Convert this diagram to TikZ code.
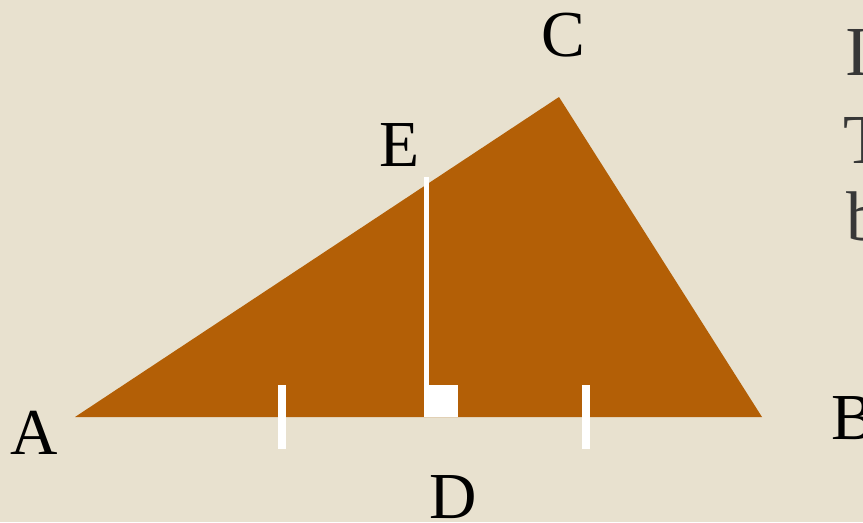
\documentclass[tikz,border=0pt]{standalone}
\usepackage{fontspec}
\setmainfont{Liberation Serif}
\usepackage{tikz}
\usetikzlibrary{positioning}
\definecolor{paper}{RGB}{232,225,207}
\definecolor{rust}{RGB}{179,95,6}
\definecolor{ink}{RGB}{55,55,55}
\tikzset{
  vtx/.style={font=\fontsize{56}{60}\selectfont, text=black, inner sep=0pt, anchor=base},
  side/.style={font=\fontsize{60}{64}\selectfont, text=ink, inner sep=0pt, anchor=base west},
  altitude/.style={white, line width=4.3pt},
  tickbar/.style={fill=white}
}
\begin{document}
\begin{tikzpicture}[x=0.03cm,y=-0.03cm]

    % Background
    \fill[paper] (0,0) rectangle (863,522);
    \useasboundingbox (0,0) rectangle (863,522);
    \clip (0,0) rectangle (863,522);

    % Triangle
    \coordinate (A) at (75,417);
    \coordinate (B) at (762,417);
    \coordinate (C) at (559,97);
    \fill[rust] (A) -- (B) -- (C) -- cycle;

    % Altitude from E to D
    \coordinate (D) at (426.5,417);
    \coordinate (E) at (426.5,177);
    \draw[altitude] (E) -- (D);
    \fill[white] (424,385) rectangle (458,417);

    % Equal parts of the base
    \foreach \x in {282, 586} {
        \fill[tickbar] (\x-4,385) rectangle (\x+4,449);
    }

    % Vertex labels
    \node[vtx] (lblA) at (34,454) {A};
    \node[vtx, anchor=base west] (lblB) at (831,439) {B};
    \node[vtx] (lblC) at (563,56) {C};
    \node[vtx] (lblD) at (453,518) {D};
    \node[vtx] (lblE) at (400,166) {E};

    % Text cut off at the right
    \node[side] (lineI) at (845,75) {I};
    \node[side] (lineT) at (843,163) {T};
    \node[side] (lineB) at (846,240) {b};

\end{tikzpicture}
\end{document}
